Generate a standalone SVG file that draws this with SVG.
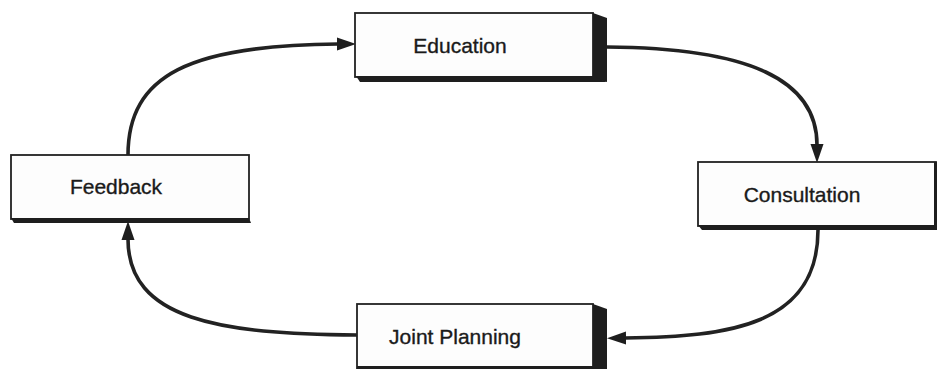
<svg xmlns="http://www.w3.org/2000/svg" width="940" height="369" viewBox="0 0 940 369">
  <style>
    .face { fill: #fdfdfd; stroke: #222; stroke-width: 1.8; }
    .shade { fill: #1e1e1e; stroke: none; }
    .label { font-family: "Liberation Sans", Arial, sans-serif; font-size: 21px; fill: #1a1a1a; stroke: #1a1a1a; stroke-width: 0.35; text-anchor: middle; }
    .conn { fill: none; stroke: #222; stroke-width: 3.6; stroke-linecap: butt; }
  </style>
  <defs>
    <marker id="arrow" markerUnits="userSpaceOnUse" markerWidth="20" markerHeight="14" viewBox="0 -7 20 14" refX="1" refY="0" orient="auto">
      <path d="M0,-6.5 L19,0 L0,6.5 Z" fill="#1e1e1e"/>
    </marker>
  </defs>
  <rect x="0" y="0" width="940" height="369" fill="#ffffff"/>

  <g id="connectors">
    <path class="conn" d="M128,155 C128,75 190,45 338,44" marker-end="url(#arrow)"/>
    <path class="conn" d="M607,47 C750,48 817,80 817,145" marker-end="url(#arrow)"/>
    <path class="conn" d="M818,230 C818,325 730,337 625,338" marker-end="url(#arrow)"/>
    <path class="conn" d="M357,335 C220,334 128,320 128,239" marker-end="url(#arrow)"/>
  </g>

  <g id="education">
    <rect class="face" x="355" y="13" width="238" height="64"/>
    <polygon class="shade" points="593,13 607,18 607,82 593,78"/>
    <polygon class="shade" points="356,76 593,76 607,82 360,82"/>
    <text class="label" x="460" y="53">Education</text>
  </g>

  <g id="consultation">
    <rect class="face" x="698" y="162" width="238" height="64"/>
    <polygon class="shade" points="698,225 937,225 937,230 702,230"/>
    <rect class="shade" x="934" y="162" width="3" height="68"/>
    <text class="label" x="802" y="202">Consultation</text>
  </g>

  <g id="joint-planning">
    <rect class="face" x="357" y="304" width="236" height="70"/>
    <polygon class="shade" points="593,304 607,309 607,369 593,369"/>
    <polygon class="shade" points="357,366 593,366 593,369 357,369"/>
    <text class="label" x="455" y="344">Joint Planning</text>
  </g>

  <g id="feedback">
    <rect class="face" x="11" y="155" width="238" height="64"/>
    <polygon class="shade" points="11,218 249,218 251,223 14,223"/>
    <text class="label" x="116" y="194">Feedback</text>
  </g>
</svg>
